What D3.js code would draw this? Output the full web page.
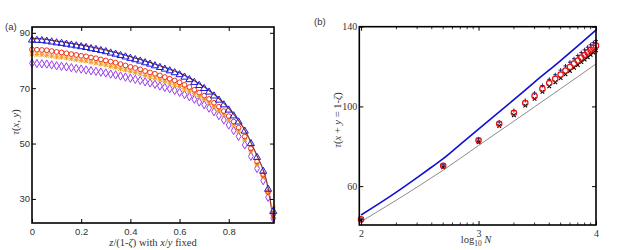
<!DOCTYPE html>
<html>
<head>
<meta charset="utf-8">
<script src="https://cdn.jsdelivr.net/npm/d3@7"></script>
<style>
  body { margin: 0; background: #fff; }
  svg { display: block; }
  .tick text { fill: #333; }
  text { fill: #333; }
</style>
</head>
<body>
<div id="chart"></div>
<script>
// ---------- panel (a) data ----------
const aX = [0, 0.02, 0.04, 0.06, 0.08, 0.10, 0.12, 0.14, 0.16, 0.18, 0.20, 0.22, 0.24, 0.26, 0.28,
  0.30, 0.32, 0.34, 0.36, 0.38, 0.40, 0.42, 0.44, 0.46, 0.48, 0.50, 0.52, 0.54, 0.56, 0.58,
  0.60, 0.62, 0.64, 0.66, 0.68, 0.70, 0.72, 0.74, 0.76, 0.78, 0.80, 0.82, 0.84, 0.865, 0.89,
  0.915, 0.94, 0.96, 0.981];
const aLine = [88.0, 87.9, 87.8, 87.6, 87.3, 87.0, 86.8, 86.5, 86.2, 85.9, 85.6, 85.3, 84.9, 84.6, 84.2,
  83.8, 83.3, 82.9, 82.4, 81.9, 81.4, 80.9, 80.4, 79.8, 79.3, 78.7, 78.1, 77.5, 76.9, 76.2,
  75.5, 74.6, 73.7, 72.7, 71.6, 70.5, 69.2, 67.8, 66.3, 64.6, 62.7, 60.6, 58.3, 55.0, 50.5,
  45.5, 40.5, 34.0, 22.0];
const aTriangles = [87.4, 87.3, 87.2, 87.0, 86.7, 86.4, 86.2, 85.9, 85.6, 85.3, 85.0, 84.7, 84.3, 84.0, 83.6,
  83.2, 82.7, 82.3, 81.8, 81.3, 80.8, 80.3, 79.8, 79.2, 78.7, 78.1, 77.5, 76.9, 76.3, 75.6,
  74.9, 74.0, 73.1, 72.1, 71.0, 69.9, 68.6, 67.2, 65.7, 64.0, 62.1, 60.0, 57.8, 54.5, 50.0,
  45.0, 40.0, 33.5, 25.5];
const aCircles = [84.0, 83.9, 83.8, 83.7, 83.4, 83.1, 82.9, 82.6, 82.3, 82.0, 81.7, 81.5, 81.1, 80.8, 80.4,
  80.0, 79.6, 79.2, 78.7, 78.2, 77.7, 77.3, 76.8, 76.2, 75.7, 75.2, 74.6, 74.0, 73.4, 72.8,
  72.1, 71.2, 70.4, 69.4, 68.4, 67.3, 66.1, 64.7, 63.3, 61.7, 59.9, 57.9, 55.7, 52.5, 48.2,
  43.5, 38.7, 32.5, 24.5];
const aCrosses = [82.3, 82.2, 82.1, 81.9, 81.6, 81.3, 81.2, 80.9, 80.6, 80.3, 80.0, 79.8, 79.4, 79.1, 78.7,
  78.4, 77.9, 77.5, 77.0, 76.6, 76.1, 75.6, 75.2, 74.6, 74.1, 73.6, 73.0, 72.5, 71.9, 71.2,
  70.6, 69.8, 68.9, 68.0, 66.9, 65.9, 64.7, 63.4, 62.0, 60.4, 58.6, 56.7, 54.5, 51.4, 47.2,
  42.5, 37.9, 31.8, 26.8];
const aDiamonds = [79.0, 78.9, 78.8, 78.7, 78.4, 78.1, 77.9, 77.7, 77.4, 77.1, 76.9, 76.6, 76.3, 76.1, 75.8,
  75.5, 75.1, 74.8, 74.4, 74.0, 73.6, 73.2, 72.8, 72.3, 71.9, 71.4, 70.8, 70.3, 69.8, 69.2,
  68.5, 67.7, 66.9, 66.0, 65.0, 64.0, 62.8, 61.5, 60.1, 58.5, 56.7, 54.7, 52.6, 49.5, 45.4,
  41.0, 36.6, 30.6, 23.0];
const aXTicks = [0, 0.2, 0.4, 0.6, 0.8];
const aYTicks = [30, 50, 70, 90];

// ---------- panel (b) data ----------
const bN = [100, 500, 1000, 1500, 2000, 2500, 3000, 3500, 4000, 4500, 5000, 5500, 6000, 6500,
  7000, 7500, 8000, 8500, 9000, 9500, 10000];
const bCircles = [43.3, 70.2, 83.0, 91.3, 96.8, 101.7, 105.2, 108.8, 111.7, 113.8, 116.0, 118.0, 119.8, 121.5,
  123.0, 124.5, 125.8, 127.1, 128.3, 129.4, 130.5];
const bCrosses = [42.8, 69.4, 82.0, 90.2, 95.6, 100.4, 103.8, 107.3, 110.1, 112.1, 114.2, 116.1, 117.8, 119.4,
  120.8, 122.2, 123.5, 124.7, 125.9, 127.0, 128.1];
const bPlus = [43.5, 70.7, 83.7, 92.2, 97.9, 103.0, 106.7, 110.5, 113.6, 115.9, 118.2, 120.3, 122.2, 123.9,
  125.5, 127.0, 128.4, 129.7, 130.9, 132.0, 133.0];
const bBlueN = [100, 200, 300, 400, 500, 700, 1000, 2000, 3000, 5000, 7000, 10000];
const bBlue = [45.5, 57.0, 64.3, 69.6, 73.8, 81.0, 88.6, 103.4, 112.2, 123.0, 130.4, 138.3];
const bGrayN = [100, 200, 300, 400, 500, 1000, 2000, 3000, 5000, 7000, 10000];
const bGray = [42.2, 53.0, 59.5, 64.3, 68.0, 80.4, 92.6, 99.8, 108.9, 114.9, 121.3];
const bXTicks = [100, 1000, 10000];
const bXTickLabels = ["2", "3", "4"];
const bYTicks = [60, 100, 140];

const width = 620, height = 250;
const svg = d3.select("#chart").append("svg")
  .attr("width", width)
  .attr("height", height);

const serif = "'Liberation Serif', 'DejaVu Serif', serif";
const sans = "'Liberation Sans', Arial, sans-serif";

// ---------- helpers ----------
function crossPath(s) {
  return `M${-s},${-s}L${s},${s}M${-s},${s}L${s},${-s}`;
}
function plusPath(s) {
  return `M${-s},0L${s},0M0,${-s}L0,${s}`;
}

// ticks pointing inward on all four sides
function drawFrame(g, x, y, xTicks, yTicks, xFmt, yFmt, font, fontSize) {
  const [x0, x1] = x.range();
  const [y0, y1] = y.range();

  g.append("g").attr("transform", `translate(0,${y0})`)
    .call(d3.axisBottom(x).tickValues(xTicks).tickFormat(xFmt).tickSizeInner(-4).tickSizeOuter(0).tickPadding(5))
    .call(a => a.select(".domain").remove());
  g.append("g").attr("transform", `translate(0,${y1})`)
    .call(d3.axisTop(x).tickValues(xTicks).tickFormat("").tickSizeInner(-4).tickSizeOuter(0))
    .call(a => a.select(".domain").remove());
  g.append("g").attr("transform", `translate(${x0},0)`)
    .call(d3.axisLeft(y).tickValues(yTicks).tickFormat(yFmt).tickSizeInner(-4).tickSizeOuter(0).tickPadding(2))
    .call(a => a.select(".domain").remove());
  g.append("g").attr("transform", `translate(${x1},0)`)
    .call(d3.axisRight(y).tickValues(yTicks).tickFormat("").tickSizeInner(-4).tickSizeOuter(0))
    .call(a => a.select(".domain").remove());

  g.selectAll(".tick text").attr("font-family", font).attr("font-size", fontSize);
  g.selectAll(".tick line").attr("stroke", "#000");

  g.append("rect")
    .attr("x", x0).attr("y", y1)
    .attr("width", x1 - x0).attr("height", y0 - y1)
    .attr("fill", "none").attr("stroke", "#000").attr("stroke-width", 1.6);
}

// =========================== panel (a) ===========================
const xa = d3.scaleLinear().domain([0, 0.984]).range([32, 274]);
const ya = d3.scaleLinear().domain([21.3, 92.1]).range([223, 27]);
const ga = svg.append("g");

const aPts = (vals) => aX.map((x, i) => ({ x: x, y: vals[i] }));

// curve
ga.append("path")
  .datum(aPts(aLine))
  .attr("fill", "none")
  .attr("stroke", "#8b3a2a")
  .attr("stroke-width", 1.3)
  .attr("d", d3.line().x(d => xa(d.x)).y(d => ya(d.y)).curve(d3.curveMonotoneX));

// purple diamonds
ga.append("g").selectAll("path")
  .data(aPts(aDiamonds)).enter().append("path")
  .attr("transform", d => `translate(${xa(d.x)},${ya(d.y)})`)
  .attr("d", d3.symbol().type(d3.symbolDiamond).size(20))
  .attr("fill", "none").attr("stroke", "#9a3cf0").attr("stroke-width", 1);

// orange crosses
ga.append("g").selectAll("path")
  .data(aPts(aCrosses)).enter().append("path")
  .attr("transform", d => `translate(${xa(d.x)},${ya(d.y)})`)
  .attr("d", crossPath(2.2) + plusPath(2.4))
  .attr("fill", "none").attr("stroke", "#f39a1c").attr("stroke-width", 1);

// red circles
ga.append("g").selectAll("circle")
  .data(aPts(aCircles)).enter().append("circle")
  .attr("cx", d => xa(d.x)).attr("cy", d => ya(d.y)).attr("r", 2.4)
  .attr("fill", "none").attr("stroke", "#f0301a").attr("stroke-width", 1);

// blue triangles
ga.append("g").selectAll("path")
  .data(aPts(aTriangles)).enter().append("path")
  .attr("transform", d => `translate(${xa(d.x)},${ya(d.y)})`)
  .attr("d", d3.symbol().type(d3.symbolTriangle).size(22))
  .attr("fill", "none").attr("stroke", "#1a1ad8").attr("stroke-width", 1);

drawFrame(ga, xa, ya, aXTicks, aYTicks, d3.format(""), d3.format("d"), sans, 9.5);

ga.append("text").attr("x", 5).attr("y", 30)
  .attr("font-family", sans).attr("font-size", 9.5).text("(a)");

ga.append("text")
  .attr("transform", "translate(19,122) rotate(-90)")
  .attr("text-anchor", "middle")
  .attr("font-family", serif).attr("font-size", 10.5)
  .html('<tspan font-style="italic">τ</tspan>(<tspan font-style="italic">x</tspan>, <tspan font-style="italic">y</tspan>)');

ga.append("text")
  .attr("x", 153).attr("y", 246)
  .attr("text-anchor", "middle")
  .attr("font-family", serif).attr("font-size", 10.5)
  .html('<tspan font-style="italic">z</tspan>/(1-<tspan font-style="italic">ζ</tspan>) with <tspan font-style="italic">x</tspan>/<tspan font-style="italic">y</tspan> fixed');

// =========================== panel (b) ===========================
const xb = d3.scaleLog().domain([96.6, 10000]).range([359.3, 596]);
const yb = d3.scaleLinear().domain([40.5, 140]).range([225, 26.7]);
const gb = svg.append("g");

const bLine = d3.line().x(d => xb(d.n)).y(d => yb(d.y));

gb.append("path")
  .datum(bGrayN.map((n, i) => ({ n: n, y: bGray[i] })))
  .attr("fill", "none").attr("stroke", "#8c8c8c").attr("stroke-width", 1)
  .attr("d", bLine.curve(d3.curveMonotoneX));

gb.append("path")
  .datum(bBlueN.map((n, i) => ({ n: n, y: bBlue[i] })))
  .attr("fill", "none").attr("stroke", "#1010d0").attr("stroke-width", 1.6)
  .attr("d", bLine.curve(d3.curveMonotoneX));

const bPts = (vals) => bN.map((n, i) => ({ n: n, y: vals[i] }));

gb.append("g").selectAll("path")
  .data(bPts(bPlus)).enter().append("path")
  .attr("transform", d => `translate(${xb(d.n)},${yb(d.y)})`)
  .attr("d", plusPath(2))
  .attr("fill", "none").attr("stroke", "#1a1a6e").attr("stroke-width", 1);

gb.append("g").selectAll("path")
  .data(bPts(bCrosses)).enter().append("path")
  .attr("transform", d => `translate(${xb(d.n)},${yb(d.y)})`)
  .attr("d", crossPath(1.8))
  .attr("fill", "none").attr("stroke", "#000").attr("stroke-width", 1.1);

gb.append("g").selectAll("circle")
  .data(bPts(bCircles)).enter().append("circle")
  .attr("cx", d => xb(d.n)).attr("cy", d => yb(d.y)).attr("r", 2.7)
  .attr("fill", "none").attr("stroke", "#e01010").attr("stroke-width", 1.2);

drawFrame(gb, xb, yb, bXTicks, bYTicks, (d, i) => bXTickLabels[i], d3.format("d"), serif, 10);

// minor log ticks on bottom and top
const bMinor = xb.ticks().filter(n => !bXTicks.includes(n));
gb.append("g").selectAll("line")
  .data(bMinor).enter().append("line")
  .attr("x1", d => xb(d)).attr("x2", d => xb(d))
  .attr("y1", 225).attr("y2", 222.5)
  .attr("stroke", "#000").attr("stroke-width", 0.8);
gb.append("g").selectAll("line")
  .data(bMinor).enter().append("line")
  .attr("x1", d => xb(d)).attr("x2", d => xb(d))
  .attr("y1", 26.7).attr("y2", 29.2)
  .attr("stroke", "#000").attr("stroke-width", 0.8);

gb.append("text").attr("x", 314).attr("y", 25)
  .attr("font-family", sans).attr("font-size", 9.5).text("(b)");

gb.append("text")
  .attr("transform", "translate(341,120) rotate(-90)")
  .attr("text-anchor", "middle")
  .attr("font-family", serif).attr("font-size", 10.5)
  .html('<tspan font-style="italic">τ</tspan>(<tspan font-style="italic">x</tspan> + <tspan font-style="italic">y</tspan> = 1-<tspan font-style="italic">ζ</tspan>)');

gb.append("text")
  .attr("x", 476).attr("y", 243)
  .attr("text-anchor", "middle")
  .attr("font-family", serif).attr("font-size", 10.5)
  .html('log<tspan font-size="7.5" dy="3">10</tspan><tspan dy="-3" font-style="italic"> N</tspan>');
</script>
</body>
</html>
